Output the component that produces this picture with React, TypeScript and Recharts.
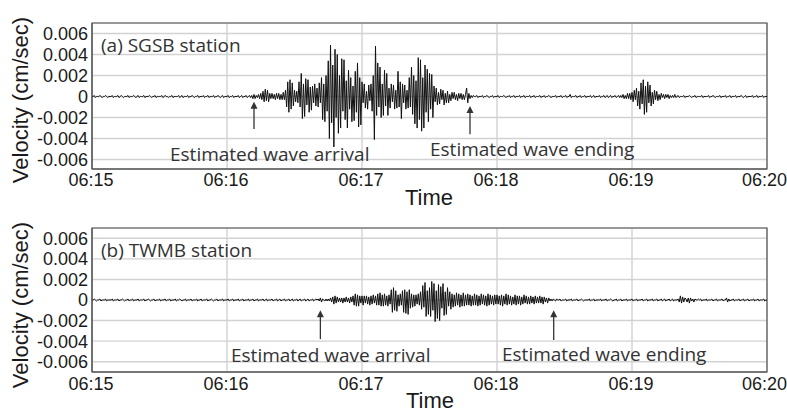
import React from 'react'
import {
  LineChart,
  Line,
  XAxis,
  YAxis,
  CartesianGrid,
  ReferenceLine,
  ReferenceArea,
} from 'recharts'

// one sample every 0.5 s from 06:15:00, velocity in units of 1e-4 cm/sec
const velocitySGSB = [
  0, 0, 1, -1, 0, 0, 0, 1, 0, -1, 0, 0, 1, 0, -1, 0, 0, 0, 1, -1,
  0, 0, 0, 1, -1, 0, 1, 0, -1, 0, 0, 0, 1, -1, 0, 0, 0, 1, 0, -1,
  0, 1, -1, 0, 0, 0, 1, -1, 0, 0, 0, 1, 0, -1, 0, 0, 1, -1, 0, 0,
  0, 0, 1, -1, 0, 1, 0, 0, -1, 0, 0, 1, -1, 0, 0, 0, 0, 1, -1, 0,
  1, -1, 0, 0, 0, 1, -1, 0, 0, 1, 0, -1, 0, 0, 1, -1, 0, 0, 0, 1,
  -1, 0, 0, 1, -1, 0, 0, 0, 1, -1, 0, 0, 1, 0, -1, 0, 1, -1, 0, 0,
  0, 1, -1, 0, 0, 1, -1, 0, 0, 0, 1, -1, 0, 1, -1, 0, 0, 1, -1, 0,
  1, -1, 1, -2, 2, -2, 1, -1, 2, -2, 3, -3, 5, -5, 7, -4, 6, -5, 3, -2,
  3, -2, 2, -3, 3, -2, 3, -3, 2, -3, 4, -3, 6, -10, 14, -15, 16, -12, 13, -9,
  6, -5, 5, -6, 14, -10, 22, -21, 12, -19, 17, -8, 16, -15, 9, -13, 10, -6, 12, -9,
  8, -10, 13, -6, 18, -22, 12, -24, 20, -14, 34, -40, 49, -25, 30, -48, 45, -20, 40, -35,
  20, -30, 36, -14, 35, -22, 15, -30, 25, -12, 18, -24, 10, -23, 24, -15, 32, -29, 18, -27,
  14, -6, 12, -11, 5, -12, 11, -4, 12, -14, 20, -41, 48, -18, 32, -10, 28, -20, 12, -18,
  25, -9, 22, -18, 8, -11, 12, -5, 11, -12, 6, -11, 24, -10, 14, -21, 12, -6, 11, -12,
  6, -11, 18, -10, 28, -17, 20, -26, 15, -30, 37, -22, 35, -33, 18, -30, 30, -15, 26, -24,
  22, -12, 21, -20, 10, -5, 8, -8, 4, -7, 7, -3, 6, -8, 3, -6, 5, -6, 2, -4,
  4, -2, 4, -3, 2, -4, 3, -2, 3, -3, 2, -3, 2, 8, -6, 3, -2, 1, -1, 1,
  0, 0, 1, -1, 0, 0, 0, 1, -1, 0, 0, 1, 0, -1, 0, 0, 1, -1, 0, 0,
  0, 1, -1, 0, 0, 0, 1, 0, -1, 0, 0, 1, -1, 0, 0, 1, -1, 0, 0, 0,
  1, -1, 0, 0, 1, -1, 0, 0, 0, 1, -1, 0, 0, 1, -1, 0, 0, 0, 1, -1,
  0, 0, 1, -1, 0, 0, 1, 0, -1, 0, 0, 0, 1, -1, 0, 0, 0, 1, -1, 0,
  0, 1, -1, 0, 0, 2, -1, 0, 0, 0, 1, -1, 0, 0, 1, -1, 0, 0, 1, -1,
  0, 0, 0, 1, -1, 0, 1, -1, 0, 0, 0, 1, -1, 0, 0, 1, -1, 0, 1, -1,
  0, 1, -1, 0, 0, 1, -1, 0, 1, -1, 1, -1, 2, -2, 1, -2, 3, -2, 3, -3,
  4, -5, 6, -3, 8, -9, 5, -12, 13, -7, 16, -17, 10, -15, 14, -6, 11, -9, 4, -7,
  6, -3, 5, -4, 2, -3, 3, -1, 2, -2, 2, -1, 2, -2, 1, -1, 1, -1, 2, -1,
  0, 1, -1, 0, 0, 0, 1, -1, 0, 0, 0, 1, 0, -1, 0, 0, 1, -1, 0, 0,
  0, 0, 1, -1, 0, 0, 0, 0, 1, -1, 0, 0, 1, 0, -1, 0, 0, 0, 1, -1,
  0, 0, 0, 1, -1, 0, 0, 1, -1, 0, 0, 0, 1, -1, 0, 0, 0, 1, 0, -1,
  0, 1, -1, 0, 0, 0, 0, 1, -1, 0, 0, 1, -1, 0, 0, 0, 1, -1, 0, 0,
  0,
]

const velocityTWMB = [
  0, 0, 1, 0, -1, 0, 0, 1, -1, 0, 0, 0, 1, -1, 0, 0, 0, 0, 1, -1,
  0, 0, 0, 1, -1, 0, 0, 1, 0, -1, 0, 0, 1, -1, 0, 0, 1, -1, 0, 0,
  0, 1, -1, 0, 0, 0, 1, -1, 0, 0, 1, 0, -1, 0, 0, 1, -1, 0, 0, 0,
  1, -1, 0, 0, 0, 1, -1, 0, 0, 1, -1, 0, 0, 0, 1, -1, 0, 0, 1, 0,
  -1, 0, 0, 1, -1, 0, 0, 0, 1, -1, 0, 0, 0, 1, -1, 0, 0, 1, -1, 0,
  0, 0, 1, -1, 0, 0, 1, 0, -1, 0, 0, 1, -1, 0, 0, 0, 1, -1, 0, 0,
  0, 1, -1, 0, 0, 1, -1, 0, 0, 0, 1, -1, 0, 0, 1, -1, 0, 0, 0, 1,
  -1, 0, 0, 1, -1, 0, 0, 1, -1, 0, 0, 0, 1, -1, 0, 1, -1, 0, 0, 0,
  1, -1, 0, 0, 1, -1, 0, 1, -1, 0, 0, 1, -1, 0, 0, 1, -1, 0, 1, -1,
  0, 0, 1, -1, 0, 1, -1, 0, 0, 1, -1, 0, 1, -1, 0, 0, 1, -1, 0, 1,
  0, 1, -1, 2, -2, 1, 0, -1, 1, -1, 1, -1, 2, -2, 3, -4, 4, -3, 3, -2,
  2, -2, 2, -3, 2, -2, 3, -2, 2, -3, 3, -2, 4, -5, 6, -6, 5, -6, 4, -3,
  4, -5, 4, -3, 4, -4, 3, -5, 4, -4, 5, -3, 4, -5, 6, -5, 7, -6, 5, -6,
  6, -5, 4, -6, 5, -4, 10, -12, 12, -10, 9, -11, 5, -6, 6, -5, 9, -12, 10, -13,
  8, -14, 10, -8, 6, -7, 5, -6, 5, -4, 6, -5, 8, -9, 14, -7, 17, -16, 9, -14,
  12, -16, 18, -10, 16, -21, 9, -18, 15, -20, 13, -8, 16, -15, 8, -14, 12, -6, 8, -9,
  6, -7, 5, -6, 7, -5, 6, -7, 5, -6, 7, -6, 5, -5, 6, -5, 5, -6, 4, -5,
  6, -5, 5, -6, 4, -5, 6, -4, 5, -5, 4, -6, 6, -5, 5, -4, 4, -5, 5, -4,
  5, -4, 4, -5, 5, -6, 4, -4, 6, -5, 5, -4, 4, -5, 3, -4, 5, -5, 4, -4,
  4, -5, 3, -4, 5, -3, 4, -4, 3, -4, 4, -3, 3, -4, 4, -3, 3, -3, 4, -3,
  3, -4, 3, -2, 2, -3, 2, -1, 1, -1, 1, 0, -1, 1, 0, 0, 1, -1, 0, 0,
  0, 1, -1, 0, 0, 0, 1, -1, 0, 0, 0, 1, -1, 0, 0, 1, 0, -1, 0, 0,
  0, 0, 1, -1, 0, 0, 1, -1, 0, 0, 0, 0, 1, -1, 0, 0, 0, 1, -1, 0,
  0, 1, 0, -1, 0, 0, 1, -1, 0, 0, 1, -1, 0, 0, 0, 1, -1, 0, 0, 0,
  1, -1, 0, 0, 1, -1, 0, 0, 0, 1, -1, 0, 0, 1, -1, 0, 0, 0, 1, -1,
  0, 0, 1, -1, 0, 0, 1, -1, 0, 1, -1, 0, 0, 1, -1, 0, 1, -1, 0, 0,
  0, 1, -2, 4, -3, 3, -2, 2, 1, -2, 2, -3, 2, -1, 1, -2, 1, 0, 0, 1,
  0, 1, -1, 0, 0, 0, 1, -1, 0, 0, 0, 1, -1, 0, 0, 1, -1, 0, 0, 0,
  1, -1, 0, 0, 2, -2, 1, -1, 0, 0, 1, -1, 0, 0, 0, 1, -1, 0, 0, 1,
  -1, 0, 0, 1, -1, 0, 0, 0, 1, -1, 0, 0, 1, -1, 0, 0, 0, 1, -1, 0,
  0,
]

const sampleStep = 0.5
const timeTicks = [0, 60, 120, 180, 240, 300]
const timeLabels = ['06:15', '06:16', '06:17', '06:18', '06:19', '06:20']
const velocityTicks = [-0.006, -0.004, -0.002, 0, 0.002, 0.004, 0.006]
const velocityLabels = ['-0.006', '-0.004', '-0.002', '0', '0.002', '0.004', '0.006']

// [arrival, ending] in seconds after 06:15
const markersSGSB = [72, 168]
const markersTWMB = [101.5, 205.2]

const toRows = (vals: number[]) => vals.map((v, i) => ({ t: i * sampleStep, v: v / 10000 }))

const fmtTime = (v: number) => timeLabels[timeTicks.indexOf(v)] ?? ''
const fmtVel = (v: number) => {
  const i = velocityTicks.findIndex((x) => Math.abs(x - v) < 1e-9)
  return i >= 0 ? velocityLabels[i] : ''
}

const tickFont = 'Liberation Sans, Arial, sans-serif'

const TimeTick = (props: any) => {
  const { x, y, payload } = props
  const last = payload.value === timeTicks[timeTicks.length - 1]
  return (
    <text
      x={last ? 787 : x - 1}
      y={y}
      dy="0.71em"
      textAnchor={last ? 'end' : 'middle'}
      fontSize={18}
      fontFamily={tickFont}
      fill="#1a1a1a"
    >
      {fmtTime(payload.value)}
    </text>
  )
}

const Arrow = (props: any) => {
  const { x1, y1, x2, y2 } = props
  return (
    <g>
      <line x1={x1} y1={y1} x2={x2} y2={y2 + 5} stroke="#333" strokeWidth={1.3} />
      <polygon points={`${x2},${y2} ${x2 - 3.5},${y2 + 7} ${x2 + 3.5},${y2 + 7}`} fill="#333" />
    </g>
  )
}

interface PanelProps {
  rows: { t: number; v: number }[]
  domain: [number, number]
  markers: number[]
  arrowLow: number[]
  arrowTip: number[]
  height: number
  tickGap: number
}

function Panel({ rows, domain, markers, arrowLow, arrowTip, height, tickGap }: PanelProps) {
  return (
    <LineChart width={787} height={height} data={rows} margin={{ top: 23, right: 20, bottom: 11, left: 0 }}>
      <CartesianGrid stroke="#d2d2d2" strokeWidth={1.4} />
      <XAxis
        dataKey="t"
        type="number"
        domain={[0, 300]}
        ticks={timeTicks}
        tick={<TimeTick />}
        tickSize={0}
        tickMargin={tickGap}
        height={30}
        axisLine={{ stroke: '#555' }}
        allowDataOverflow
      />
      <YAxis
        type="number"
        domain={domain}
        ticks={velocityTicks}
        tickFormatter={fmtVel}
        tick={{ fontSize: 18, fill: '#1a1a1a', fontFamily: tickFont }}
        tickSize={0}
        tickMargin={4}
        width={92}
        axisLine={{ stroke: '#555' }}
        allowDataOverflow
        interval={0}
      />
      {/* right frame with small inward ticks */}
      <YAxis
        yAxisId="r"
        orientation="right"
        type="number"
        domain={domain}
        ticks={velocityTicks}
        tickFormatter={() => ''}
        mirror
        tickSize={3}
        tickLine={{ stroke: '#555' }}
        width={0}
        axisLine={{ stroke: '#555' }}
        allowDataOverflow
        interval={0}
      />
      <ReferenceArea x1={0} x2={300} y1={domain[0]} y2={domain[1]} fill="none" stroke="#555" strokeWidth={1.2} />
      <Line
        type="linear"
        dataKey="v"
        stroke="#111"
        strokeWidth={1}
        dot={false}
        isAnimationActive={false}
      />
      {markers.map((t, i) => (
        <ReferenceLine
          key={i}
          segment={[
            { x: t, y: arrowLow[i] },
            { x: t, y: arrowTip[i] },
          ]}
          shape={Arrow}
        />
      ))}
    </LineChart>
  )
}

export default function App() {
  const noteFont = '"Open Sans", sans-serif'
  return (
    <div style={{ position: 'absolute', left: 0, top: 0, width: 787, height: 413, background: '#fff', overflow: 'hidden' }}>
      <div style={{ position: 'absolute', left: 0, top: 0 }}>
        <Panel
          rows={toRows(velocitySGSB)}
          domain={[-0.0069, 0.007]}
          markers={markersSGSB}
          arrowLow={[-0.0031, -0.0036]}
          arrowTip={[-0.0005, -0.0009]}
          height={210}
          tickGap={4}
        />
      </div>
      <div style={{ position: 'absolute', left: 0, top: 205 }}>
        <Panel
          rows={toRows(velocityTWMB)}
          domain={[-0.007, 0.007]}
          markers={markersTWMB}
          arrowLow={[-0.0038, -0.0039]}
          arrowTip={[-0.001, -0.001]}
          height={208}
          tickGap={5}
        />
      </div>
      <svg width={787} height={413} style={{ position: 'absolute', left: 0, top: 0, pointerEvents: 'none' }}>
        <g fontFamily={tickFont} fill="#1a1a1a" fontSize={22} textAnchor="middle">
          <text transform="translate(28,100) rotate(-90)">Velocity (cm/sec)</text>
          <text transform="translate(28,305) rotate(-90)">Velocity (cm/sec)</text>
          <text x={429} y={205}>Time</text>
          <text x={430} y={408}>Time</text>
        </g>
        <g fontFamily={noteFont} fill="#333" fontSize={19}>
          <text x={101} y={52}>(a) SGSB station</text>
          <text x={170} y={161}>Estimated wave arrival</text>
          <text x={430} y={155.5}>Estimated wave ending</text>
          <text x={101} y={257}>(b) TWMB station</text>
          <text x={231} y={362}>Estimated wave arrival</text>
          <text x={502} y={361}>Estimated wave ending</text>
        </g>
      </svg>
    </div>
  )
}
